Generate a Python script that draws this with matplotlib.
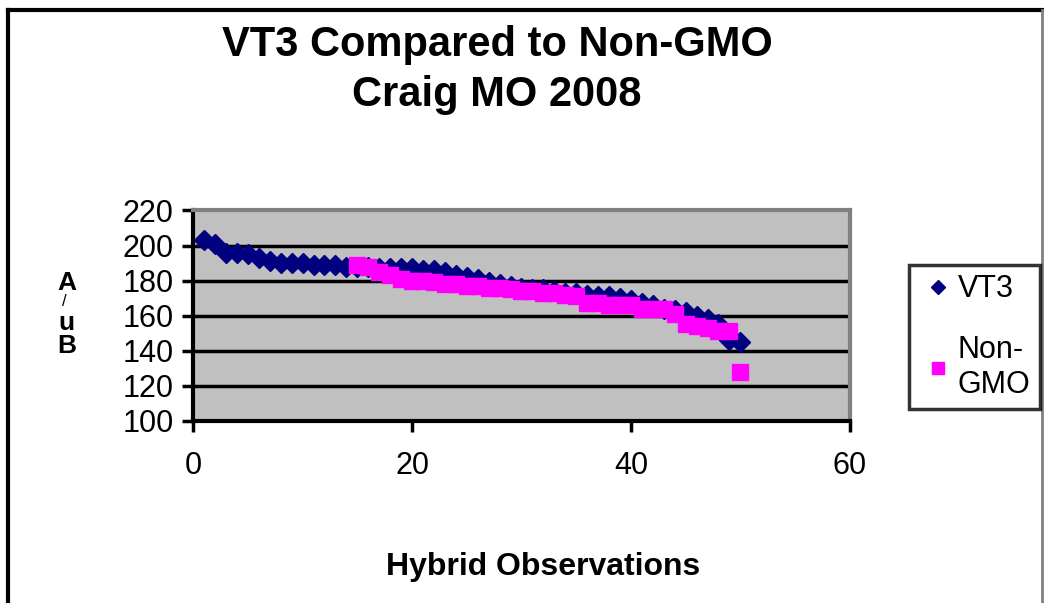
import numpy as np
import matplotlib.pyplot as plt
from matplotlib.lines import Line2D

plt.rcParams['font.family'] = ['Liberation Sans', 'DejaVu Sans']

# VT3 observations 1..50
vt3_x = list(range(1, 51))
vt3_y = [203, 201, 196, 196, 195, 193, 191, 190, 190, 190,
         189, 189, 189, 188, 188, 188, 187, 187, 187, 187,
         186, 186, 185, 183, 182, 181, 179, 178, 177, 176,
         175, 175, 174, 173, 173, 172, 171, 171, 170, 169,
         167, 166, 164, 163, 162, 160, 158, 155, 146, 145]

# Non-GMO observations 15..50
gmo_x = list(range(15, 51))
gmo_y = [189, 188, 185, 183, 181, 180, 180, 179, 178, 178,
         177, 177, 176, 176, 175, 174, 174, 173, 173, 172,
         171, 167, 167, 166, 166, 166, 164, 164, 164, 161,
         155, 154, 153, 151, 151, 128]

y_ticks = [100, 120, 140, 160, 180, 200, 220]
x_ticks = [0, 20, 40, 60]

fig = plt.figure(figsize=(10.44, 6.03), dpi=100)
ax = fig.add_axes([0.185, 0.302, 0.629, 0.349])
ax.set_facecolor('#C0C0C0')

# gridlines
for t in y_ticks[1:-1]:
    ax.axhline(t, color='black', lw=2.5, zorder=1)

ax.plot(vt3_x, vt3_y, linestyle='none', marker='D', markersize=10,
        color='#000080', label='VT3', zorder=3)
ax.plot(gmo_x, gmo_y, linestyle='none', marker='s', markersize=12,
        color='#FF00FF', label='Non-\nGMO', zorder=4)

ax.set_xlim(0, 60)
ax.set_ylim(100, 220)
ax.set_xticks(x_ticks)
ax.set_yticks(y_ticks)
ax.tick_params(labelsize=22, width=2.5, length=8, direction='out')
ax.tick_params(axis='x', pad=14)
ax.tick_params(axis='y', pad=6)

for s in ['left', 'bottom']:
    ax.spines[s].set_linewidth(3)
    ax.spines[s].set_color('black')
for s in ['top', 'right']:
    ax.spines[s].set_linewidth(3)
    ax.spines[s].set_color('#808080')

fig.text(0.476, 0.925, 'VT3 Compared to Non-GMO', ha='center', va='center',
         fontsize=30, fontweight='bold')
fig.text(0.476, 0.842, 'Craig MO 2008', ha='center', va='center',
         fontsize=30, fontweight='bold')
fig.text(0.52, 0.06, 'Hybrid Observations', ha='center', va='center',
         fontsize=23, fontweight='bold')

# stacked y label
fig.text(0.064, 0.530, 'A', ha='center', va='center', fontsize=19, fontweight='bold')
fig.text(0.062, 0.500, '/', ha='center', va='center', fontsize=12)
fig.text(0.064, 0.465, 'u', ha='center', va='center', fontsize=19, fontweight='bold')
fig.text(0.064, 0.426, 'B', ha='center', va='center', fontsize=19, fontweight='bold')

leg = fig.legend(loc='upper right', bbox_to_anchor=(0.996, 0.56), fontsize=22,
                 frameon=True, fancybox=False, edgecolor='black',
                 handlelength=1.3, handletextpad=0.0, labelspacing=1.0,
                 borderpad=0.3, borderaxespad=0, markerscale=0.75)
leg.get_frame().set_linewidth(2.5)

# chart border
fig.add_artist(Line2D([0.008, 0.008], [0, 0.984], color='black', lw=3))
fig.add_artist(Line2D([0.008, 0.998], [0.984, 0.984], color='black', lw=3))
fig.add_artist(Line2D([0.998, 0.998], [0, 0.984], color='#808080', lw=2))

fig.savefig('out.png', dpi=100)
